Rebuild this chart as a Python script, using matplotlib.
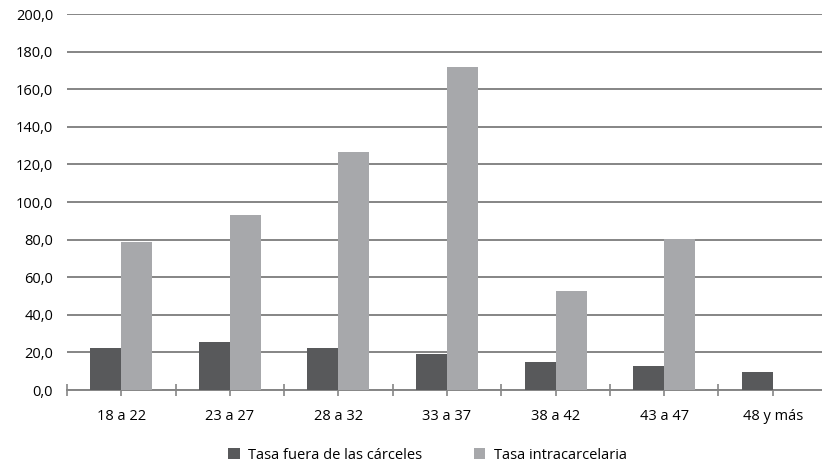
import numpy as np
import matplotlib.pyplot as plt
from matplotlib.ticker import FixedLocator

categories = ['18 a 22', '23 a 27', '28 a 32', '33 a 37', '38 a 42', '43 a 47', '48 y más']
tasa_fuera = [22.5, 25.7, 22.5, 19.1, 14.7, 12.6, 9.4]
tasa_intra = [78.9, 93.1, 126.8, 171.6, 52.8, 80.3, 0]
y_ticks = [0, 20, 40, 60, 80, 100, 120, 140, 160, 180, 200]

plt.rcParams['font.family'] = ['Open Sans', 'DejaVu Sans']

fig = plt.figure(figsize=(8.22, 4.69), dpi=100)
ax = fig.add_axes([67 / 822, (469 - 390) / 469, 760 / 822, 376 / 469])

x = np.arange(len(categories))
w = 0.285
ax.bar(x - w / 2, tasa_fuera, w, color='#58595b', label='Tasa fuera de las cárceles', zorder=3)
ax.bar(x + w / 2, tasa_intra, w, color='#a7a8ab', label='Tasa intracarcelaria', zorder=3)

ax.set_xlim(-0.5, len(categories) - 0.5)
ax.set_ylim(0, 200)
ax.set_yticks(y_ticks)
ax.set_yticklabels([f'{v:.1f}'.replace('.', ',') for v in y_ticks], fontsize=10.5)
ax.yaxis.grid(True, color='#858585', linewidth=1.4, zorder=0)
ax.tick_params(axis='y', length=0, pad=10)

ax.set_xticks(x)
ax.set_xticklabels(categories, fontsize=10.5)
ax.tick_params(axis='x', which='major', length=4, direction='out', color='#858585', width=1.2, pad=10)
ax.xaxis.set_minor_locator(FixedLocator(np.arange(-0.5, len(categories), 1.0)))
ax.tick_params(axis='x', which='minor', length=8, direction='inout', color='#858585', width=1.2)

for s in ['top', 'right', 'left']:
    ax.spines[s].set_visible(False)
ax.spines['bottom'].set_color('#858585')
ax.spines['bottom'].set_linewidth(1.4)

fig.legend(loc='lower center', bbox_to_anchor=(0.52, -0.015), ncol=2, frameon=False,
           fontsize=10.5, handlelength=0.8, handleheight=0.8, columnspacing=3.5,
           handletextpad=0.6)

fig.savefig('out.png', dpi=100)
